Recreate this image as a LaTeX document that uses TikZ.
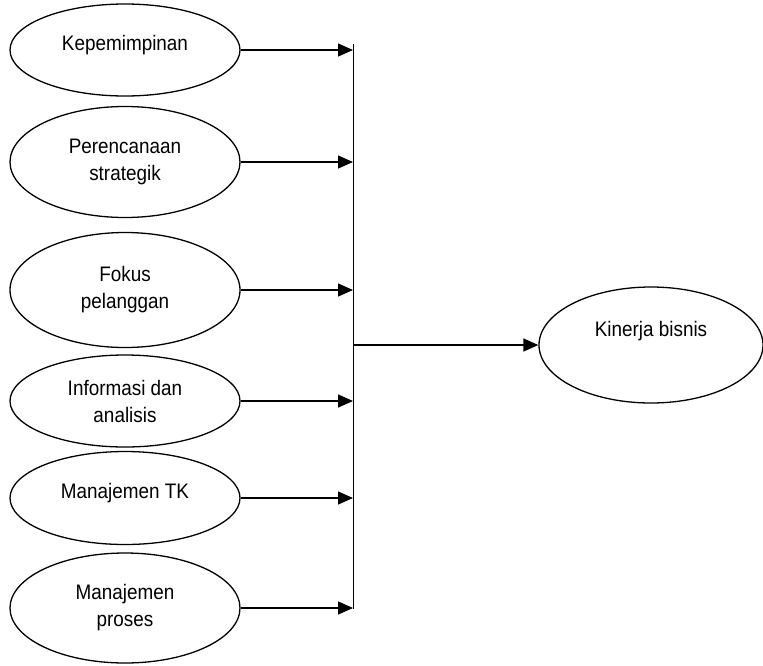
\documentclass[tikz,border=0pt]{standalone}
\usepackage{fontspec}
\setmainfont{Liberation Sans}[FakeStretch=0.9]
\usetikzlibrary{shapes.geometric, arrows.meta, positioning}

\begin{document}
\begin{tikzpicture}[
        x=1pt, y=-1pt,
        font=\fontsize{21}{27}\selectfont,
        factor/.style={
            ellipse,
            draw,
            line width=1.3pt,
            minimum width=230pt,
            inner sep=0pt,
            align=center
        },
        arrow/.style={
            line width=1.4pt,
            -{Triangle[length=15pt, width=13pt]}
        },
        bus/.style={
            line width=0.8pt
        }
    ]
    \useasboundingbox (0,0) rectangle (763,665);

    % Factors
    \node (kep) [factor, minimum height=92pt, text depth=14pt] at (125,50) {Kepemimpinan};
    \node (ren) [factor, minimum height=111pt] at (125,162) {Perencanaan\\strategik};
    \node (fok) [factor, minimum height=115pt] at (125,290) {Fokus\\pelanggan};
    \node (inf) [factor, minimum height=92pt] at (125,401) {Informasi dan\\analisis};
    \node (tk)  [factor, minimum height=93pt, text depth=14pt] at (125,498) {Manajemen TK};
    \node (pro) [factor, minimum height=110pt] at (125,608) {Manajemen\\proses};

    % Result
    \node (kin) [factor, minimum width=224pt, minimum height=116pt, text depth=32pt] at (651,345) {Kinerja bisnis};

    % Bus
    \coordinate (btop) at (353,44);
    \coordinate (bbot) at (353,609);
    \coordinate (hub) at (353,345);
    \draw [bus] (btop) -- (bbot);

    % Factors to bus
    \foreach \n in {kep, ren, fok, inf, tk, pro}
        \draw [arrow] (\n.east) -- (\n.east -| btop);

    % Bus to result
    \draw [arrow] (hub) -- (kin.west);

\end{tikzpicture}
\end{document}
